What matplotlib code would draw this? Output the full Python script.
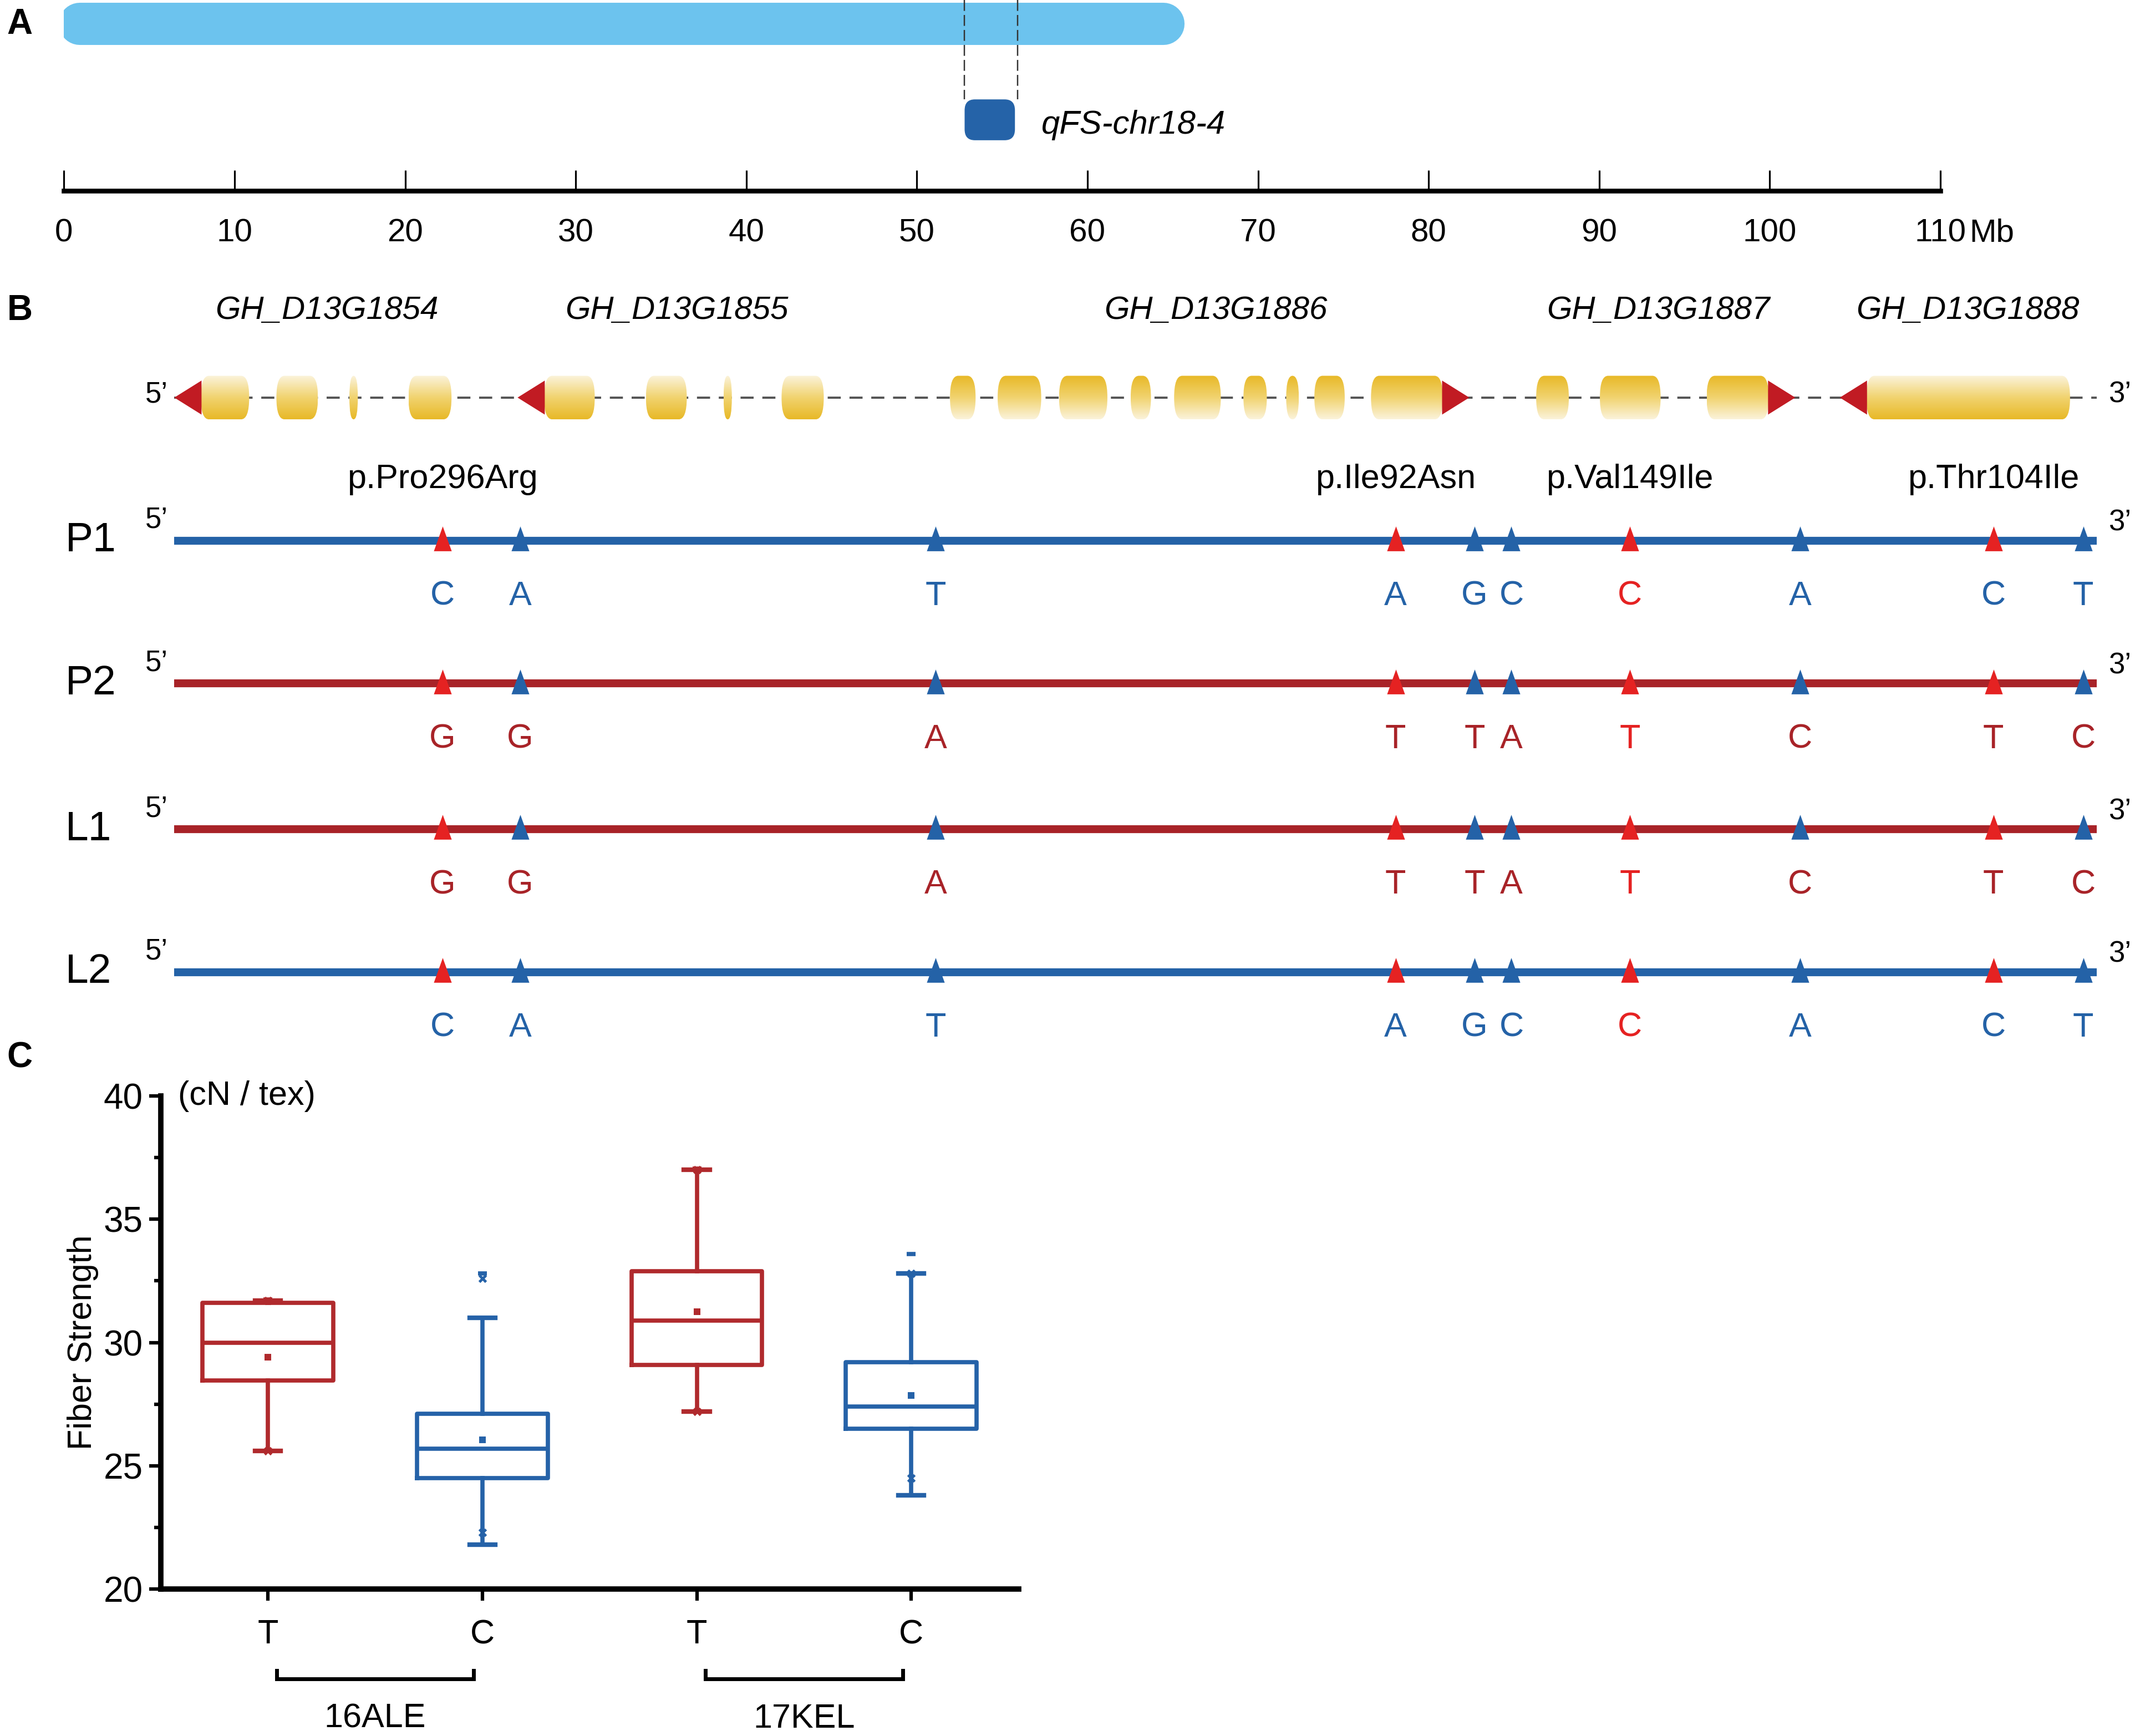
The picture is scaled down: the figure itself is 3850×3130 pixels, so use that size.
import numpy as np
import matplotlib
matplotlib.use('Agg')
import matplotlib.pyplot as plt
import matplotlib.transforms as mtransforms
from matplotlib.patches import FancyBboxPatch, Polygon
from matplotlib.colors import LinearSegmentedColormap

plt.rcParams['font.family'] = ['Liberation Sans', 'DejaVu Sans']

# layout grid (figure is laid out on a 1568 x 1275 grid)
W, H = 1568, 1275
U = 72 / 100 * 3850 / W   # points per grid unit

# ---------------- data ----------------
# A: chromosome and QTL, in Mb
chrom_span = (-0.3, 65.7)
qtl_name = 'qFS-chr18-4'
qtl_span = (52.8, 55.9)
ruler_ticks = np.arange(0, 111, 10)

# B: gene models along the candidate region
gene_names = ['GH_D13G1854', 'GH_D13G1855', 'GH_D13G1886', 'GH_D13G1887', 'GH_D13G1888']
gene_label_x = [240, 497, 893, 1218, 1445]
gene_strand = ['-', '-', '+', '+', '-']
gene_exons = [
    [(147.5, 183), (203, 233.5), (256.6, 262.8), (300, 331.6)],
    [(399.6, 436.8), (474.4, 504.4), (531.4, 537.5), (574, 605)],
    [(697.7, 716.5), (732.7, 764.7), (777.8, 813.3), (830.4, 845.3), (862.3, 896.6),
     (913.2, 930.4), (944.6, 953.9), (965.3, 987.6), (1006.9, 1059.6)],
    [(1128.2, 1152.2), (1175, 1219.6), (1253.4, 1299)],
    [(1370.7, 1520.3)],
]
region_span = (128, 1540)

# SNPs
snp_x = [325, 382, 687, 1025, 1083, 1110, 1197, 1322, 1464, 1530]
nonsyn_idx = [0, 3, 6, 8]
aa_change = ['p.Pro296Arg', 'p.Ile92Asn', 'p.Val149Ile', 'p.Thr104Ile']
line_names = ['P1', 'P2', 'L1', 'L2']
line_alleles = ['CATAGCCACT', 'GGATTATCTC', 'GGATTATCTC', 'CATAGCCACT']
line_type = ['blue', 'red', 'red', 'blue']
hl_idx = 6

# C: fiber strength box plots
box_labels = ['T', 'C', 'T', 'C']
box_env = ['16ALE', '16ALE', '17KEL', '17KEL']
env_names = ['16ALE', '17KEL']
box_q1 = [28.45, 24.5, 29.1, 26.5]
box_med = [30.0, 25.7, 30.9, 27.4]
box_q3 = [31.6, 27.1, 32.9, 29.2]
box_lo = [25.6, 21.8, 27.2, 23.8]
box_hi = [31.7, 31.0, 37.0, 32.8]
box_mean = [29.4, 26.05, 31.25, 27.85]
box_p1 = [25.6, 22.3, 27.2, 24.5]
box_p99 = [31.7, 32.6, 37.0, 32.8]
box_min = [25.6, 21.8, 27.2, 23.8]
box_max = [31.75, 32.8, 37.05, 33.6]

# colours
blue = '#2462a7'
dark_red = '#a82328'
bright_red = '#e52222'
line_col = {'blue': blue, 'red': dark_red}
box_col = {'T': '#b02a2d', 'C': '#2562a8'}


def fig_rect(x0, y0, x1, y1):
    return [x0 / W, 1 - y1 / H, (x1 - x0) / W, (y1 - y0) / H]


fig = plt.figure(figsize=(38.5, 31.3), dpi=100)

# panel letters
for lab, yy in zip(['A', 'B', 'C'], [18, 228, 777]):
    fig.text(5 / W, 1 - yy / H, lab, fontsize=46, fontweight='bold', ha='left', va='center')

# ---------------- A ----------------
ax_a = fig.add_axes(fig_rect(47, 0, 1425, 115))
mb_per_unit = 110 / (1425 - 47)
r_cap = 15.5 * mb_per_unit
ax_a.plot([chrom_span[0] + r_cap, chrom_span[1] - r_cap], [17.5, 17.5], color='#6cc3ee',
          lw=31 * U, solid_capstyle='round', zorder=1)
for q in qtl_span:
    ax_a.plot([q, q], [0, 73], color='#333333', lw=1.0 * U, dashes=(8, 3), zorder=2)
rx = 0.6
qbox = FancyBboxPatch((qtl_span[0], 73), qtl_span[1] - qtl_span[0] - 0.15, 30,
                      boxstyle='round,pad=0,rounding_size=%g' % rx, mutation_aspect=8 / rx,
                      fc='#2563a8', ec='none', zorder=3)
ax_a.add_patch(qbox)
ax_a.text(qtl_span[1] + 1.4, 92, qtl_name, style='italic', fontsize=43, ha='left', va='center')
ax_a.set_xlim(0, 110)
ax_a.set_ylim(115, 0)
ax_a.axis('off')

ax_r = fig.add_axes(fig_rect(47, 100, 1425, 140))
ax_r.patch.set_visible(False)
for s in ['top', 'left', 'right']:
    ax_r.spines[s].set_visible(False)
ax_r.spines['bottom'].set_linewidth(3.5 * U)
ax_r.set_xlim(0, 110)
ax_r.set_yticks([])
ax_r.set_xticks(ruler_ticks)
ax_r.set_xticklabels([str(t) for t in ruler_ticks])
ax_r.tick_params(axis='x', direction='in', length=15 * U, width=1.3 * U, pad=36, labelsize=42)
ax_r.annotate('Mb', xy=(110, 0), xycoords=('data', 'axes fraction'), xytext=(38, -36),
              textcoords='offset points', ha='left', va='top', fontsize=42)

# ---------------- B ----------------
ax_b = fig.add_axes(fig_rect(0, 190, W, 790))
gy = 292
eh = 32
gold = LinearSegmentedColormap.from_list('exon', ['#e8b928', '#f1d36f', '#fbf3da'])
grad = np.linspace(0, 1, 64).reshape(-1, 1)

ax_b.plot(region_span, [gy, gy], color='#555555', lw=1.6 * U, dashes=(6, 4), zorder=1)
for name, lx in zip(gene_names, gene_label_x):
    ax_b.text(lx, 228, name, style='italic', fontsize=42, ha='center', va='center')

tri_w, tri_h = 19.5, 25
for strand, exons in zip(gene_strand, gene_exons):
    g = grad if strand == '+' else grad[::-1]
    for x0, x1 in exons:
        w = x1 - x0
        r = min(6, w / 2)
        patch = FancyBboxPatch((x0, gy - eh / 2), w, eh,
                               boxstyle='round,pad=0,rounding_size=%g' % r,
                               mutation_aspect=(eh / 2) / r, fc='none', ec='none')
        ax_b.add_patch(patch)
        im = ax_b.imshow(g, cmap=gold, vmin=0, vmax=1, origin='lower', aspect='auto',
                         extent=(x0, x1, gy - eh / 2, gy + eh / 2), zorder=3)
        im.set_clip_path(patch)
    if strand == '-':
        a = exons[0][0]
        pts = [(a + 0.5, gy - tri_h / 2), (a + 0.5, gy + tri_h / 2), (a - tri_w, gy)]
    else:
        a = exons[-1][1]
        pts = [(a - 0.5, gy - tri_h / 2), (a - 0.5, gy + tri_h / 2), (a + tri_w, gy)]
    ax_b.add_patch(Polygon(pts, closed=True, fc='#c11b23', ec='none', zorder=4))

ax_b.text(115, gy - 2, '5\u2019', fontsize=38, ha='center', va='center')
ax_b.text(1557, gy - 2, '3\u2019', fontsize=38, ha='center', va='center')

# amino-acid changes
for k, idx in enumerate(nonsyn_idx):
    ax_b.text(snp_x[idx], 352, aa_change[k], fontsize=44, ha='center', va='center')

row_y = [397, 502, 609, 714]
tri_marker = [(-0.72, -1), (0.72, -1), (0, 1)]
syn_idx = [i for i in range(len(snp_x)) if i not in nonsyn_idx]
for name, alleles, kind, ry in zip(line_names, line_alleles, line_type, row_y):
    c = line_col[kind]
    ax_b.plot(region_span, [ry, ry], color=c, lw=5.8 * U, solid_capstyle='butt', zorder=2)
    ax_b.plot([snp_x[i] for i in syn_idx], [ry - 1.5] * len(syn_idx), ls='none',
              marker=tri_marker, ms=18.2 * U, mew=0, color=blue, zorder=3)
    ax_b.plot([snp_x[i] for i in nonsyn_idx], [ry - 1.5] * len(nonsyn_idx), ls='none',
              marker=tri_marker, ms=18.2 * U, mew=0, color=bright_red, zorder=3)
    for i, al in enumerate(alleles):
        ax_b.text(snp_x[i], ry + 41, al, fontsize=44, ha='center', va='center',
                  color=bright_red if i == hl_idx else c)
    ax_b.text(48, ry, name, fontsize=54, ha='left', va='center')
    ax_b.text(115, ry - 15, '5\u2019', fontsize=38, ha='center', va='center')
    ax_b.text(1557, ry - 13, '3\u2019', fontsize=38, ha='center', va='center')

ax_b.set_xlim(0, W)
ax_b.set_ylim(790, 190)
ax_b.axis('off')

# ---------------- C ----------------
ax_c = fig.add_axes(fig_rect(118, 805, 748, 1167))
pos = np.arange(1, len(box_labels) + 1)
stats = []
for i in range(len(box_labels)):
    stats.append(dict(med=box_med[i], q1=box_q1[i], q3=box_q3[i], whislo=box_lo[i],
                      whishi=box_hi[i], mean=box_mean[i], fliers=[]))
lw_box = 5.5
bp = ax_c.bxp(stats, positions=pos, widths=0.61, capwidths=0.12, showmeans=True,
              showfliers=False,
              boxprops=dict(lw=lw_box), whiskerprops=dict(lw=lw_box),
              capprops=dict(lw=lw_box + 0.5), medianprops=dict(lw=lw_box),
              meanprops=dict(marker='s', ms=9, mew=0))
for i, lab in enumerate(box_labels):
    c = box_col[lab]
    bp['boxes'][i].set_color(c)
    bp['medians'][i].set_color(c)
    for art in bp['whiskers'][2 * i:2 * i + 2] + bp['caps'][2 * i:2 * i + 2]:
        art.set_color(c)
    bp['means'][i].set_markerfacecolor(c)
    bp['means'][i].set_markeredgecolor(c)
    ax_c.plot([pos[i], pos[i]], [box_p1[i], box_p99[i]], ls='none', marker='x', ms=9,
              mew=3.5, color=c, zorder=4)
    ax_c.plot([pos[i], pos[i]], [box_min[i], box_max[i]], ls='none', marker='_', ms=12,
              mew=5.5, color=c, zorder=4)

ax_c.set_xlim(0.5, 4.5)
ax_c.set_ylim(20, 40)
ax_c.set_yticks([20, 25, 30, 35, 40])
ax_c.set_yticks(np.arange(22.5, 40, 5), minor=True)
ax_c.set_xticks(pos)
ax_c.set_xticklabels(box_labels)
for s in ['top', 'right']:
    ax_c.spines[s].set_visible(False)
for s in ['left', 'bottom']:
    ax_c.spines[s].set_linewidth(7)
ax_c.tick_params(axis='y', which='major', direction='out', length=15, width=4.5, pad=8,
                 labelsize=46)
ax_c.tick_params(axis='y', which='minor', direction='out', length=9, width=4.5)
ax_c.tick_params(axis='x', direction='out', length=15, width=4.5, pad=24, labelsize=44)
ax_c.set_ylabel('Fiber Strength', fontsize=44, labelpad=6)
ax_c.text(0.02, 1.0, '(cN / tex)', transform=ax_c.transAxes, fontsize=44, ha='left',
          va='center')

trans = mtransforms.blended_transform_factory(ax_c.transData, ax_c.transAxes)
for env in env_names:
    p = [pos[i] for i, e in enumerate(box_env) if e == env]
    x0, x1 = min(p) + 0.04, max(p) - 0.04
    ax_c.plot([x0, x0, x1, x1], [-0.165, -0.182, -0.182, -0.165], transform=trans,
              clip_on=False, color='black', lw=5, solid_joinstyle='miter')
    ax_c.text(np.mean(p), -0.264, env, transform=trans, fontsize=44, ha='center',
              va='center')

fig.savefig('out.png', dpi=100)
